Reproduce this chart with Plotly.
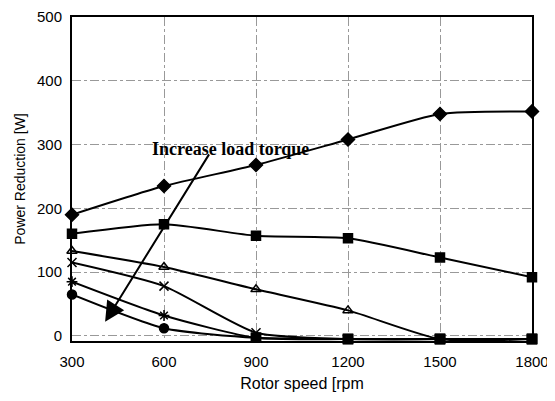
import plotly.graph_objects as go

speeds = [300, 600, 900, 1200, 1500, 1800]
s_diamond = [190, 235, 268, 308, 348, 352]
s_square = [160, 175, 157, 153, 123, 92]
s_triangle = [133, 108, 73, 40, -5, -5]
s_x = [115, 78, 5, -5, -5, -5]
s_star = [85, 32, -3, -5, -5, -5]
s_circle = [65, 12, -3, -5, -5, -5]
x_ticks = [300, 600, 900, 1200, 1500, 1800]
y_ticks = [0, 100, 200, 300, 400, 500]

fig = go.Figure()

def add(y, symbols, size=9):
    fig.add_trace(go.Scatter(
        x=speeds, y=y, mode="lines+markers",
        line=dict(color="black", width=2, shape="spline", smoothing=0.6),
        marker=dict(symbol=symbols, size=size, color="black",
                    line=dict(color="black", width=1.5)),
        cliponaxis=False, showlegend=False))

add(s_circle, ["circle", "circle", "square", "square", "square", "square"])
add(s_star, ["asterisk", "asterisk", "square", "square", "square", "square"])
add(s_x, ["x-thin", "x-thin", "x-thin", "square", "square", "square"])
add(s_triangle, ["triangle-up-open", "triangle-up-open", "triangle-up-open",
                 "triangle-up-open", "square", "square"])
add(s_square, "square")
add(s_diamond, "diamond", 10)

fig.add_annotation(
    x=408, y=22, ax=750, ay=287, xref="x", yref="y", axref="x", ayref="y",
    showarrow=True, arrowhead=2, arrowsize=2, arrowwidth=2, arrowcolor="black",
    text="")
fig.add_annotation(
    x=818, y=293, xref="x", yref="y", showarrow=False,
    text="<b>Increase load torque</b>",
    font=dict(family="Liberation Serif", size=18, color="black"))

fig.update_xaxes(
    range=[300, 1800], tickvals=x_ticks, ticktext=[str(v) for v in x_ticks],
    showline=True, linecolor="black", linewidth=2, mirror=True,
    showgrid=True, gridcolor="#999999", griddash="dashdot", gridwidth=1,
    zeroline=False, ticks="", ticklabelstandoff=6, automargin=False,
    ticklabeloverflow="allow",
    tickfont=dict(family="Liberation Sans", size=15, color="black"),
    title=dict(text="Rotor speed [rpm", standoff=9,
               font=dict(family="Liberation Sans", size=16, color="black")))
fig.update_yaxes(
    range=[-8, 500], tickvals=y_ticks, ticktext=[str(v) for v in y_ticks],
    showline=True, linecolor="black", linewidth=2, mirror=True,
    showgrid=True, gridcolor="#999999", griddash="dashdot", gridwidth=1,
    zeroline=False, ticks="", ticklabelstandoff=5, automargin=False,
    ticklabeloverflow="allow",
    tickfont=dict(family="Liberation Sans", size=15, color="black"),
    title=dict(text="Power Reduction [W]", standoff=8,
               font=dict(family="Liberation Sans", size=14, color="black")))

fig.update_layout(
    width=547, height=393,
    margin=dict(l=64, r=23, t=9, b=60),
    paper_bgcolor="white", plot_bgcolor="white")

fig.write_html("out.html")
